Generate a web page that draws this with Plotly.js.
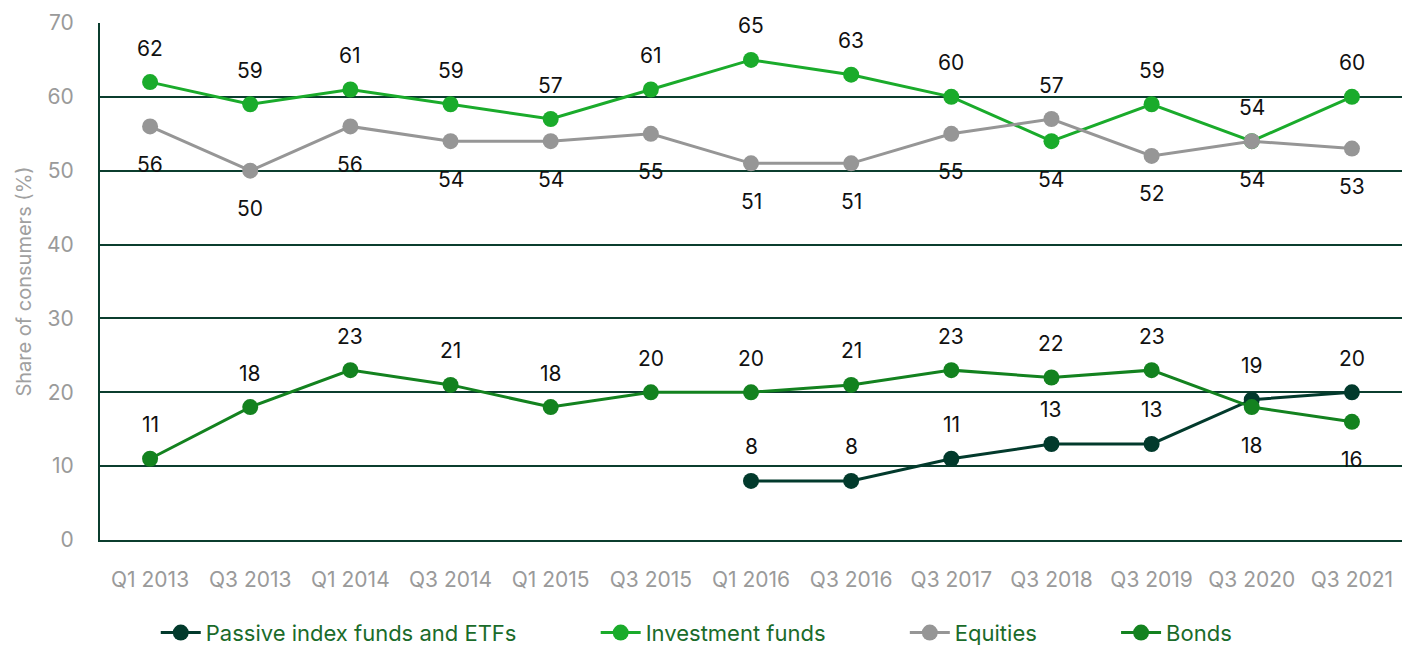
<!DOCTYPE html>
<html><head><meta charset="utf-8">
<script src="https://cdn.plot.ly/plotly-3.0.1.min.js"></script>
<style>body{margin:0;background:#fff}#c{width:1416px;height:645px}</style>
</head><body><div id="c"></div>
<script>
const categories = ["Q1 2013","Q3 2013","Q1 2014","Q3 2014","Q1 2015","Q3 2015","Q1 2016","Q3 2016","Q3 2017","Q3 2018","Q3 2019","Q3 2020","Q3 2021"];
const passive = [null,null,null,null,null,null,8,8,11,13,13,19,20];
const investment = [62,59,61,59,57,61,65,63,60,54,59,54,60];
const equities = [56,50,56,54,54,55,51,51,55,57,52,54,53];
const bonds = [11,18,23,21,18,20,20,21,23,22,23,18,16];
// label placement: 1 = above, -1 = below
const passivePos = [1,1,1,1,1,1,1,1,1,1,1,1,1];
const investmentPos = [1,1,1,1,1,1,1,1,1,-1,1,1,1];
const equitiesPos = [-1,-1,-1,-1,-1,-1,-1,-1,-1,1,-1,-1,-1];
const bondsPos = [1,1,1,1,1,1,1,1,1,1,1,-1,-1];

const series = [
  {name:"Passive index funds and ETFs", y:passive, pos:passivePos, color:"#023a2c"},
  {name:"Investment funds", y:investment, pos:investmentPos, color:"#1aab2b"},
  {name:"Equities", y:equities, pos:equitiesPos, color:"#969696"},
  {name:"Bonds", y:bonds, pos:bondsPos, color:"#13821f"}
];

const FONT = "Inter, 'Noto Sans', sans-serif";
const PAD = "\u00a0".repeat(12);
const traces = series.map(s => ({
  type:"scatter", mode:"lines+markers", name:s.name + PAD,
  x:categories, y:s.y, connectgaps:false,
  line:{color:s.color, width:3},
  marker:{color:s.color, size:16},
  hoverinfo:"skip"
}));

const annotations = [];
series.forEach(s => {
  s.y.forEach((v,i) => {
    if (v === null) return;
    annotations.push({
      x:categories[i], y:v, xref:"x", yref:"y",
      text:String(v), showarrow:false,
      yshift: s.pos[i] > 0 ? 34 : -38,
      font:{family:FONT, size:21, color:"#111"}
    });
  });
});

const layout = {
  width:1416, height:645,
  margin:{l:100, r:14, t:23, b:105},
  paper_bgcolor:"#fff", plot_bgcolor:"#fff",
  font:{family:FONT},
  showlegend:true,
  legend:{orientation:"h", xref:"container", yref:"container", x:0.11, xanchor:"left", y:0.019, yanchor:"middle",
    font:{family:FONT, size:22, color:"#1a6b2a"}, itemwidth:40, tracegroupgap:0},
  xaxis:{type:"category", range:[-0.5,12.5], showgrid:false, zeroline:false,
    showline:true, linecolor:"#0b3d2e", linewidth:2,
    tickfont:{family:FONT, size:21, color:"#9a9a9a"}, ticks:"outside", ticklen:20, tickcolor:"rgba(0,0,0,0)"},
  yaxis:{range:[0,70], dtick:10, showgrid:true, gridcolor:"#0b3d2e", gridwidth:2,
    zeroline:false, showline:true, linecolor:"#0b3d2e", linewidth:2,
    tickfont:{family:FONT, size:21, color:"#9a9a9a"}, ticks:"outside", ticklen:20, tickcolor:"rgba(0,0,0,0)",
    title:{text:"Share of consumers (%)", font:{family:FONT, size:20, color:"#a0a0a0"}, standoff:10}},
  annotations:annotations
};
Plotly.newPlot("c", traces, layout, {displayModeBar:false, staticPlot:true});
</script></body></html>
